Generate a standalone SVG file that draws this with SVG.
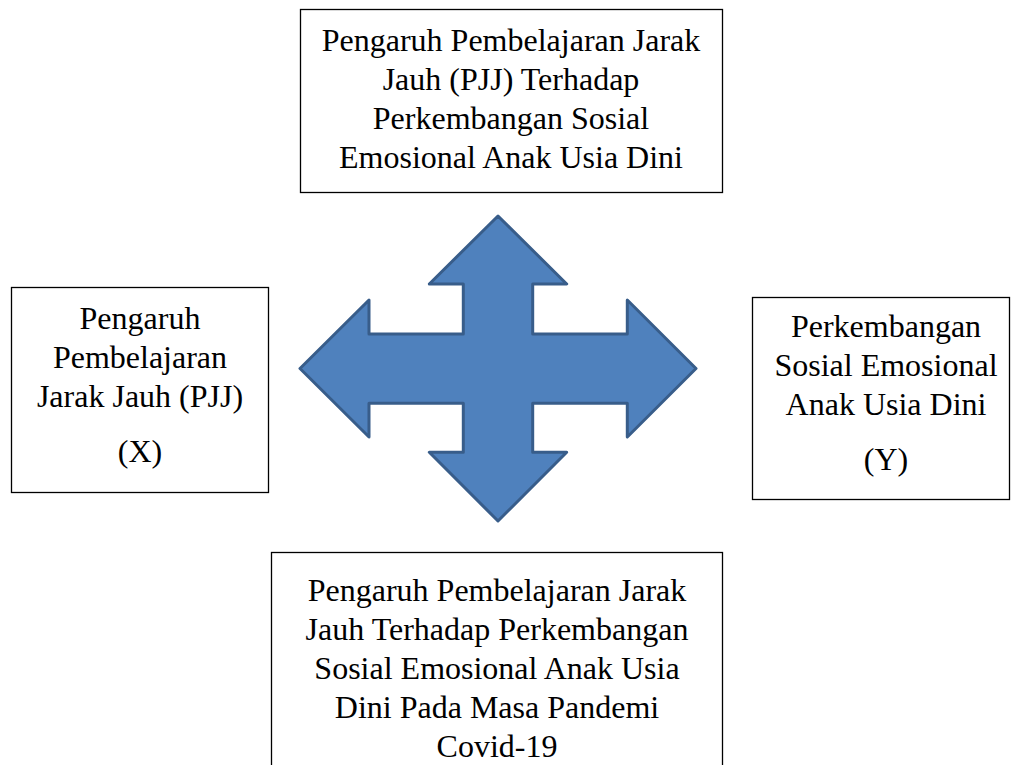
<svg xmlns="http://www.w3.org/2000/svg" width="1011" height="765" viewBox="0 0 1011 765">
<style>
.box{fill:#fff;stroke:#000;stroke-width:1.3}
.t{font-family:"Liberation Serif","Times New Roman",serif;font-size:32px;fill:#000;text-anchor:middle}
.arrow{fill:#4F81BD;stroke:#385D8A;stroke-width:3;stroke-linejoin:round}
</style>
<rect width="1011" height="765" fill="#fff"/>
<g id="connectors">
<path class="arrow" d="M498,216 L566.7,284 L532.7,284 L532.7,334 L627.3,334 L627.3,300 L696,368.5 L627.3,437 L627.3,403.3 L532.7,403.3 L532.7,452.3 L566.7,452.3 L498,521 L429.3,452.3 L463.3,452.3 L463.3,403.3 L369,403.3 L369,437 L300,368.5 L369,300 L369,334 L463.3,334 L463.3,284 L429.3,284 Z"/>
</g>
<g id="node-top">
<rect class="box" x="300.5" y="9.5" width="422" height="183"/>
<text class="t" x="511" y="51">Pengaruh Pembelajaran Jarak</text>
<text class="t" x="511" y="90">Jauh (PJJ) Terhadap</text>
<text class="t" x="511" y="129">Perkembangan Sosial</text>
<text class="t" x="511" y="168">Emosional Anak Usia Dini</text>
</g>
<g id="node-left">
<rect class="box" x="11.5" y="287.5" width="257" height="205"/>
<text class="t" x="140" y="329">Pengaruh</text>
<text class="t" x="140" y="368">Pembelajaran</text>
<text class="t" x="140" y="407">Jarak Jauh (PJJ)</text>
<text class="t" x="140" y="462">(X)</text>
</g>
<g id="node-right">
<rect class="box" x="752.5" y="297.5" width="257" height="202"/>
<text class="t" x="886" y="337">Perkembangan</text>
<text class="t" x="886" y="376">Sosial Emosional</text>
<text class="t" x="886" y="415">Anak Usia Dini</text>
<text class="t" x="886" y="470">(Y)</text>
</g>
<g id="node-bottom">
<rect class="box" x="271.5" y="552.5" width="451" height="240"/>
<text class="t" x="497" y="601">Pengaruh Pembelajaran Jarak</text>
<text class="t" x="497" y="640">Jauh Terhadap Perkembangan</text>
<text class="t" x="497" y="679">Sosial Emosional Anak Usia</text>
<text class="t" x="497" y="718">Dini Pada Masa Pandemi</text>
<text class="t" x="497" y="757">Covid-19</text>
</g>
</svg>
